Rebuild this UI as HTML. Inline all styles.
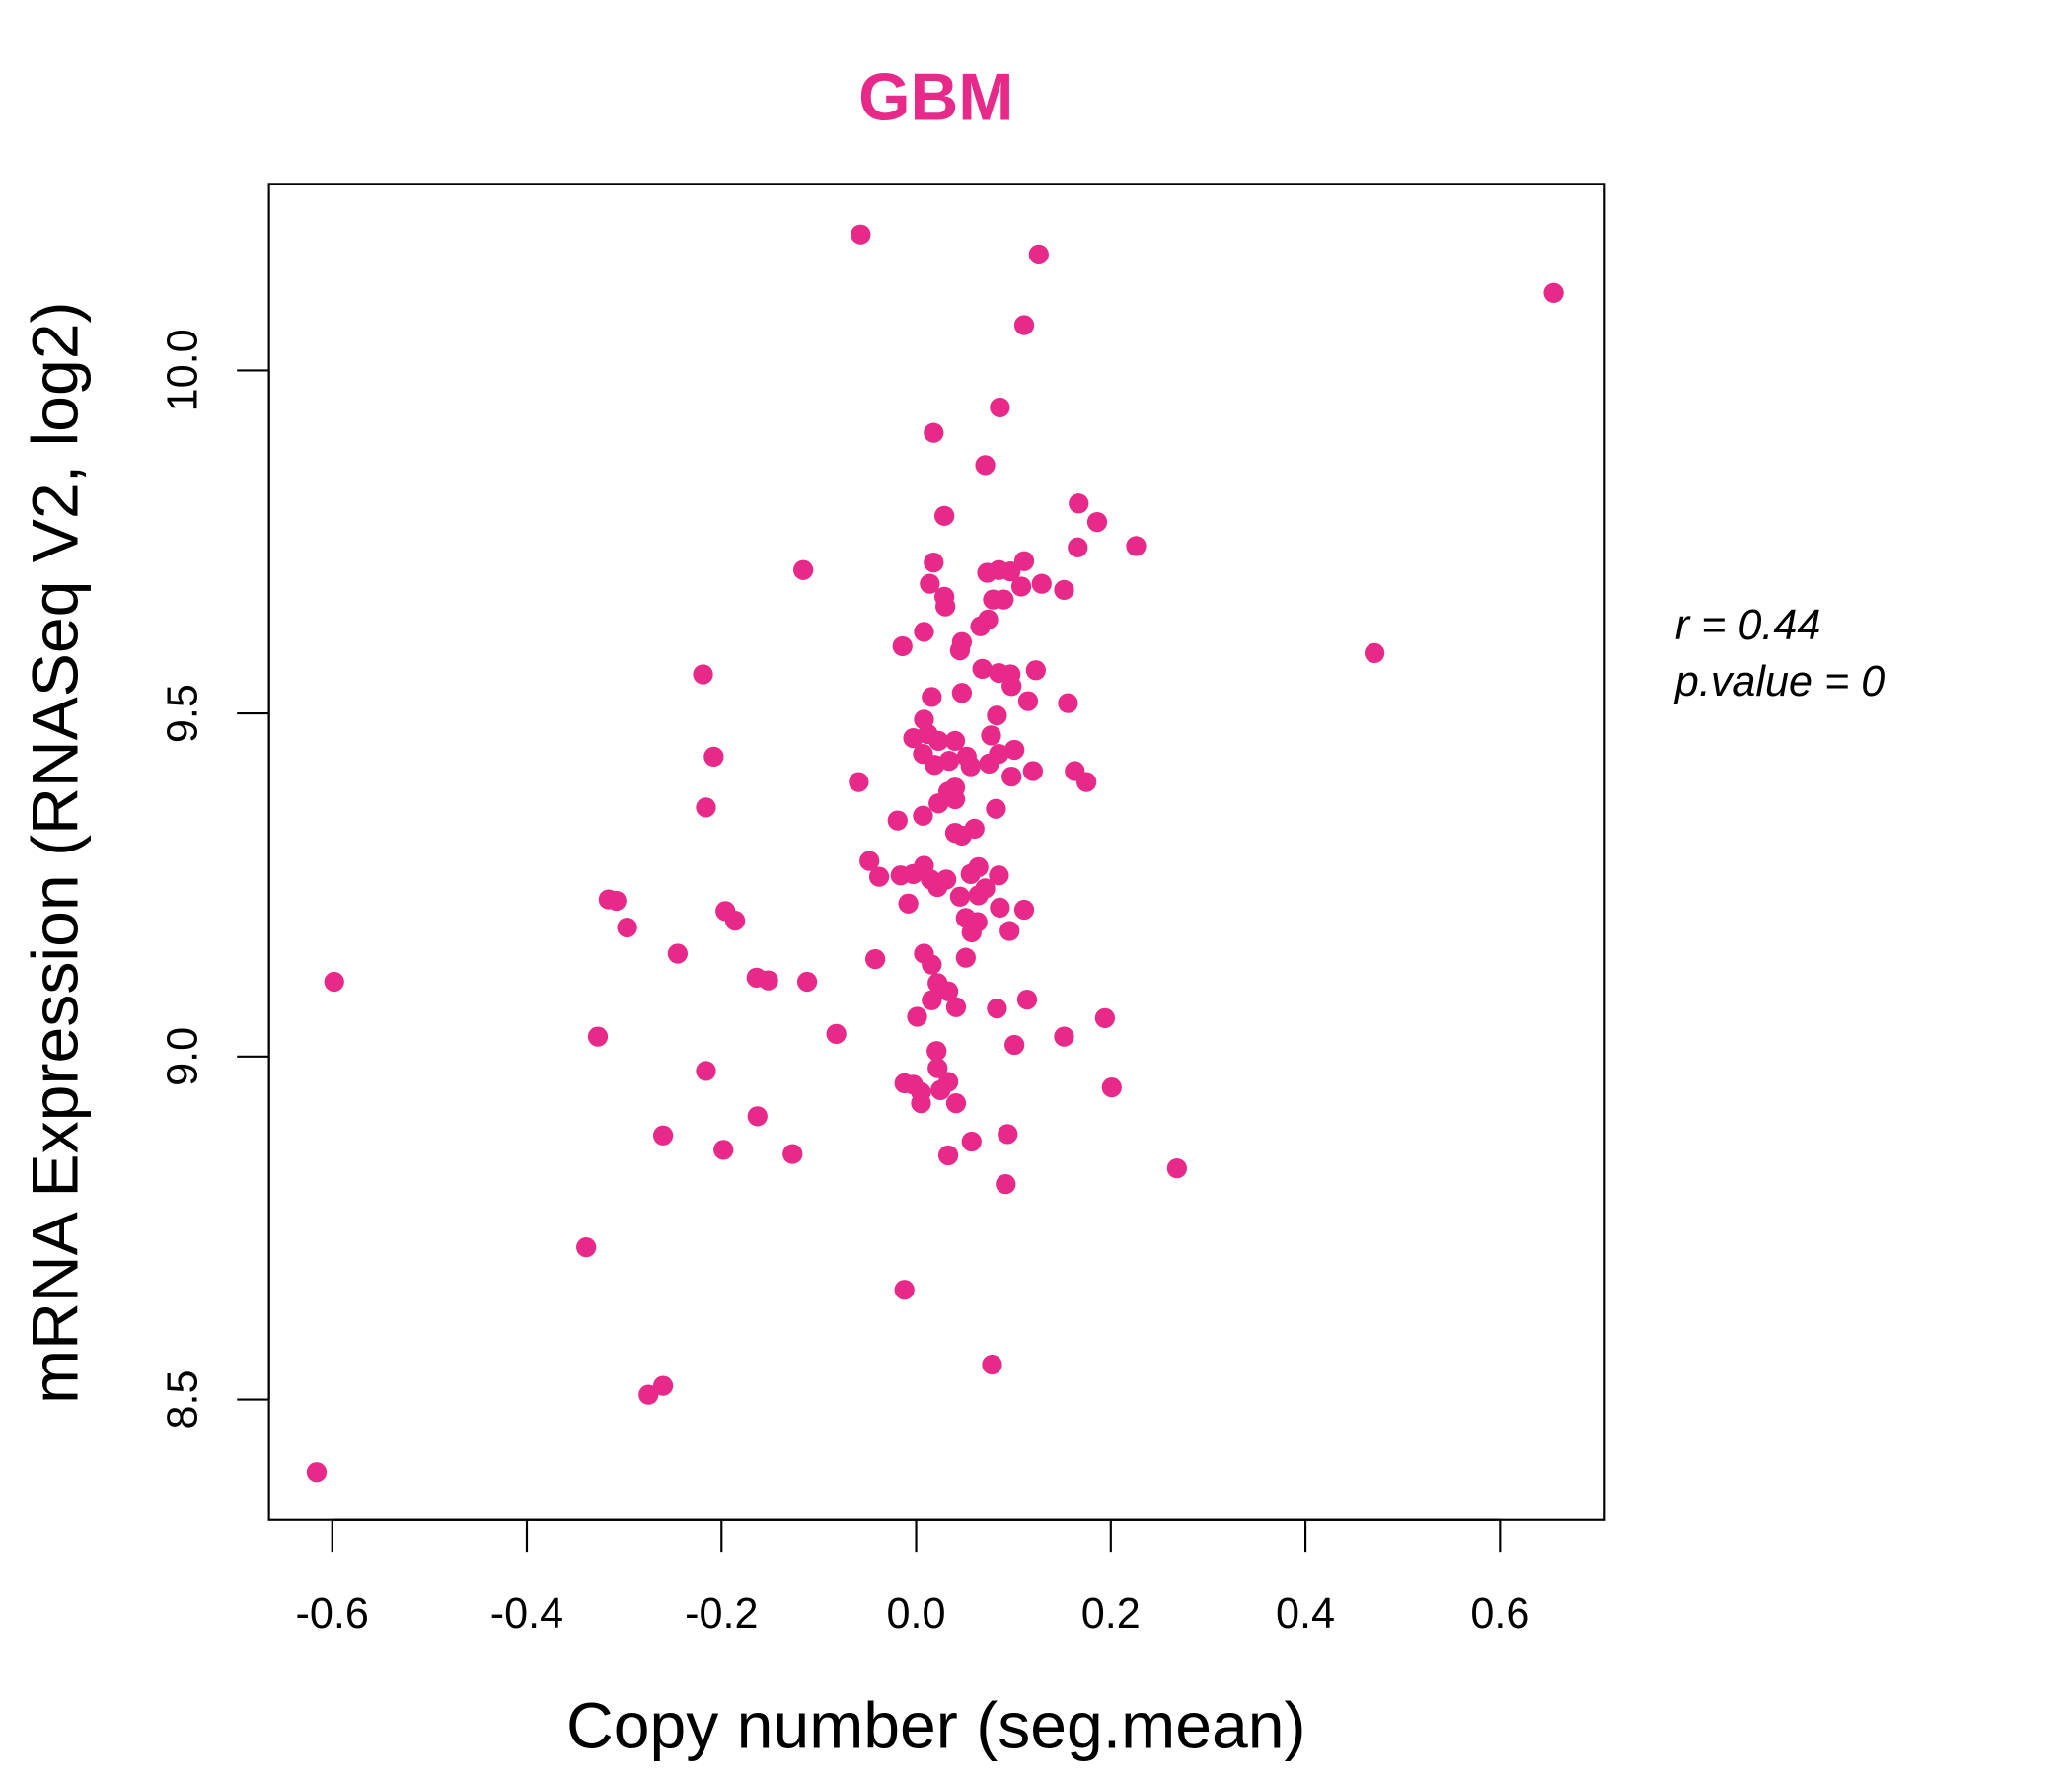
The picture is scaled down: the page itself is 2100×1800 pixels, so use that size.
<!DOCTYPE html>
<html><head><meta charset="utf-8"><style>
html,body{margin:0;padding:0;background:#fff}
svg{display:block}
text{font-family:"Liberation Sans",sans-serif}
</style></head><body>
<svg id="chart" width="2100" height="1800" viewBox="0 0 1556 1333" preserveAspectRatio="none" xmlns="http://www.w3.org/2000/svg">
<rect x="0" y="0" width="1556" height="1333" fill="#fff"/>
<text x="703" y="90" text-anchor="middle" font-size="50" font-weight="bold" fill="#E7298A">GBM</text>
<rect x="202" y="138" width="1003" height="1003" fill="none" stroke="#000" stroke-width="1.6"/>
<g id="xaxis"></g>
<g id="yaxis"></g>
<g id="points"></g>
<text x="703" y="1312" text-anchor="middle" font-size="49">Copy number (seg.mean)</text>
<text transform="translate(58,640) rotate(-90)" text-anchor="middle" font-size="49">mRNA Expression (RNASeq V2, log2)</text>
<text x="1258" y="480" font-size="32" font-style="italic">r = 0.44</text>
<text x="1258" y="522" font-size="32" font-style="italic">p.value = 0</text>
</svg>
<script>
const xTicks = [-0.6,-0.4,-0.2,0.0,0.2,0.4,0.6];
const xTickLabels = ["-0.6","-0.4","-0.2","0.0","0.2","0.4","0.6"];
const yTicks = [8.5,9.0,9.5,10.0];
const yTickLabels = ["8.5","9.0","9.5","10.0"];
const xVals = [-0.057,0.126,0.655,0.111,0.086,0.018,0.071,0.167,0.029,0.186,0.226,0.166,-0.116,0.018,0.111,0.073,0.085,0.097,0.014,0.129,0.108,0.152,0.029,0.079,0.090,0.030,0.074,0.066,0.008,0.471,0.047,0.045,-0.014,0.068,0.085,0.097,0.123,-0.219,0.098,0.047,0.016,0.115,0.156,0.083,0.008,-0.003,0.012,0.040,0.077,0.023,0.007,0.101,-0.208,0.019,0.052,0.056,0.034,0.075,0.085,0.120,0.163,0.098,0.175,-0.059,0.040,0.033,0.040,0.023,-0.216,0.082,0.007,-0.019,0.060,0.040,0.047,-0.048,0.008,0.064,0.056,-0.016,-0.003,-0.038,0.085,0.015,0.031,0.022,0.071,0.064,0.045,-0.316,-0.308,-0.008,0.086,0.111,-0.196,-0.186,0.051,0.063,-0.297,0.057,0.096,-0.245,0.008,-0.042,0.051,0.016,-0.164,-0.152,-0.112,-0.598,0.022,0.033,0.016,0.114,0.041,0.083,0.001,0.194,-0.082,-0.327,0.152,0.101,0.021,0.022,-0.216,-0.012,-0.003,0.033,0.025,0.005,0.201,0.005,0.041,-0.163,-0.260,0.094,0.057,-0.198,-0.127,0.033,0.268,0.092,-0.339,-0.012,0.078,-0.260,-0.275,-0.616];
const yVals = [10.198,10.169,10.113,10.066,9.946,9.909,9.862,9.806,9.788,9.779,9.744,9.742,9.709,9.720,9.722,9.705,9.709,9.707,9.689,9.689,9.685,9.680,9.670,9.666,9.666,9.656,9.637,9.627,9.619,9.588,9.604,9.592,9.598,9.565,9.559,9.557,9.563,9.557,9.540,9.530,9.524,9.518,9.515,9.497,9.491,9.464,9.470,9.460,9.468,9.460,9.441,9.447,9.437,9.425,9.437,9.423,9.431,9.427,9.441,9.416,9.416,9.408,9.400,9.400,9.392,9.386,9.375,9.369,9.363,9.361,9.351,9.344,9.332,9.326,9.322,9.285,9.278,9.276,9.266,9.264,9.266,9.262,9.264,9.258,9.258,9.247,9.245,9.235,9.233,9.229,9.227,9.223,9.217,9.214,9.212,9.198,9.202,9.196,9.188,9.181,9.183,9.150,9.150,9.142,9.144,9.134,9.115,9.111,9.109,9.109,9.107,9.095,9.082,9.083,9.072,9.070,9.058,9.056,9.033,9.029,9.029,9.017,9.008,8.983,8.979,8.961,8.959,8.963,8.951,8.948,8.955,8.932,8.932,8.913,8.885,8.887,8.876,8.864,8.858,8.856,8.837,8.814,8.722,8.660,8.551,8.520,8.507,8.394];

const NS = "http://www.w3.org/2000/svg";
function sx(v){ return 688 + v * (1127 - 250) / 1.2; }
function sy(v){ return 793 - (v - 9) * 515; }

const xg = document.getElementById('xaxis');
const xl = document.createElementNS(NS,'line');


xl.setAttribute('x1',sx(xTicks[0])); xl.setAttribute('x2',sx(xTicks[xTicks.length-1]));
xl.setAttribute('y1',1141); xl.setAttribute('y2',1141);
xl.setAttribute('stroke','#000'); xl.setAttribute('stroke-width','1.6');
xg.appendChild(xl);
xTicks.forEach((t,i)=>{
  const l = document.createElementNS(NS,'line');
  
  
  l.setAttribute('x1',sx(t)); l.setAttribute('x2',sx(t));
  l.setAttribute('y1',1141); l.setAttribute('y2',1165);
  l.setAttribute('stroke','#000'); l.setAttribute('stroke-width','1.6');
  xg.appendChild(l);
  const tx = document.createElementNS(NS,'text');
  
  
  tx.setAttribute('x',sx(t)); tx.setAttribute('y',1222);
  tx.setAttribute('text-anchor','middle'); tx.setAttribute('font-size','32');
  tx.textContent = xTickLabels[i];
  xg.appendChild(tx);
});

const yg = document.getElementById('yaxis');
const yl = document.createElementNS(NS,'line');


yl.setAttribute('x1',202); yl.setAttribute('x2',202);
yl.setAttribute('y1',sy(yTicks[0])); yl.setAttribute('y2',sy(yTicks[yTicks.length-1]));
yl.setAttribute('stroke','#000'); yl.setAttribute('stroke-width','1.6');
yg.appendChild(yl);
yTicks.forEach((t,i)=>{
  const l = document.createElementNS(NS,'line');
  
  
  l.setAttribute('x1',178); l.setAttribute('x2',202);
  l.setAttribute('y1',sy(t)); l.setAttribute('y2',sy(t));
  l.setAttribute('stroke','#000'); l.setAttribute('stroke-width','1.6');
  yg.appendChild(l);
  const tx = document.createElementNS(NS,'text');
  
  
  tx.setAttribute('transform','translate(148,'+sy(t)+') rotate(-90)');
  tx.setAttribute('text-anchor','middle'); tx.setAttribute('font-size','32');
  tx.textContent = yTickLabels[i];
  yg.appendChild(tx);
});

const pg = document.getElementById('points');
xVals.forEach((v,i)=>{
  const c = document.createElementNS(NS,'circle');
  
  
  c.setAttribute('cx',sx(v)); c.setAttribute('cy',sy(yVals[i]));
  c.setAttribute('r',7.5); c.setAttribute('fill','#E7298A');
  pg.appendChild(c);
});
</script>
</body></html>
